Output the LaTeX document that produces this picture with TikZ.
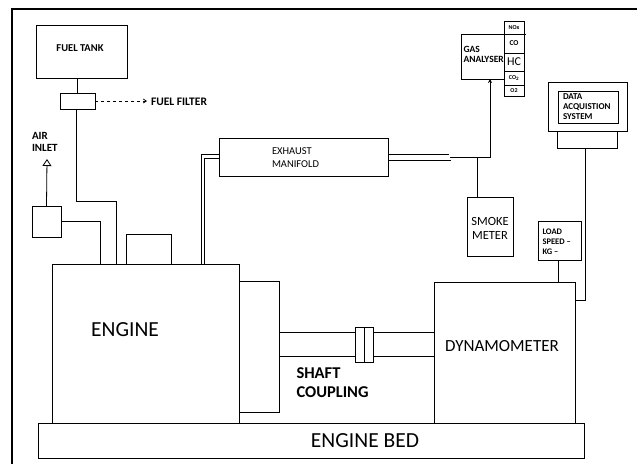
\documentclass[tikz,border=0pt]{standalone}
\usepackage{fontspec}
\setmainfont{Carlito}
\usetikzlibrary{arrows.meta}
\newcommand{\myfs}[2]{\fontsize{#1}{#2}\selectfont}
\begin{document}
\begin{tikzpicture}[x=1pt,y=-1pt,
  box/.style={draw, line width=0.8pt, inner sep=0pt, outer sep=0pt, fill=white},
  ln/.style={line width=0.8pt},
  txt/.style={inner sep=0pt, outer sep=0pt, align=left},
  cell/.style={box, minimum width=20pt}]
\useasboundingbox (0,0) rectangle (637,464);
% frame
\draw[line width=1.8pt] (12,464) -- (12,9) -- (640,9);

% boxes
\node[box, minimum width=91pt, minimum height=53pt] (tank) at (81.5,51.5) {};
\node[txt, font=\myfs{10.5}{12}\bfseries] at (80,48) {FUEL TANK};
\node[box, minimum width=35pt, minimum height=16pt] (filter) at (77.5,101) {};
\node[box, minimum width=29pt, minimum height=31pt] (air) at (46.5,221.5) {};
\node[box, minimum width=45pt, minimum height=30pt] (cap) at (148.5,249) {};
\node[box, minimum width=187pt, minimum height=159pt] (engine) at (145.5,343.5) {};
\node[txt, font=\myfs{21.5}{24}] at (125,330) {ENGINE};
\node[box, minimum width=169pt, minimum height=38pt] (mani) at (303.5,157) {};
\node[txt, anchor=west, font=\myfs{10.5}{13}] at (272,157.5) {EXHAUST\\MANIFOLD};
\node[box, minimum width=43pt, minimum height=45pt] (gas) at (482.5,56.5) {};
\node[txt, anchor=west, font=\myfs{9.5}{10}\bfseries] at (463.5,54) {GAS\\ANALYSER};
\node[box, minimum width=46pt, minimum height=59pt] (smoke) at (490,226.5) {};
\node[txt, align=center, font=\myfs{12.5}{13.5}] at (490,228.5) {SMOKE\\METER};
\node[box, minimum width=43pt, minimum height=39pt] (load) at (559.5,240.5) {};
\node[box, minimum width=79pt, minimum height=49pt] (daq) at (587.5,106.5) {};
\node[box, minimum width=60pt, minimum height=32pt] (daqin) at (588,107) {};
\node[box, minimum width=60pt, minimum height=17pt] (daqbase) at (587,139.5) {};
\node[box, minimum width=141pt, minimum height=141pt] (dyno) at (504.5,352.5) {};
\node[txt, font=\myfs{17}{20}] at (502,346) {DYNAMOMETER};
\node[box, minimum width=40pt, minimum height=131pt] (fly) at (259,346.5) {};
\node[box, minimum width=18pt, minimum height=35pt] (coup) at (364,344.5) {};
\draw[ln] (coup.north) -- (coup.south);
\node[box, minimum width=546pt, minimum height=35pt] (bed) at (311,440.5) {};
\node[txt, font=\myfs{21.5}{24}] at (365,441) {ENGINE BED};

% clipped texts
\begin{scope}
\clip (daqin.north west) rectangle (daqin.south east);
\node[txt, anchor=north west, font=\myfs{9}{10}\bfseries] at (563,94) {DATA\\ACQUISTION\\SYSTEM};
\end{scope}
\begin{scope}
\clip (load.north west) rectangle (load.south east);
\node[txt, anchor=north west, font=\myfs{8.5}{10}\bfseries] at (542.5,229) {LOAD\\SPEED --\\KG --};
\end{scope}

% gas analyser cells
\node[cell, minimum height=13pt, font=\myfs{6}{7}\bfseries] (nox) at (514,27.5) {NOx};
\node[cell, minimum height=19pt, font=\myfs{7.5}{8}\bfseries] (co) at (514,43.5) {CO};
\node[cell, minimum height=18pt, font=\myfs{12}{13}] (hc) at (514,62) {HC};
\node[cell, minimum height=14pt, font=\myfs{6}{7}\bfseries] (co2) at (514,78) {CO\textsubscript{2}};
\node[cell, minimum height=11pt, font=\myfs{6}{7}\bfseries] (o2) at (514,90.5) {O2};
\draw[ln] (nox.south east) -- ++(2,0);

% labels
\node[txt, anchor=west, font=\myfs{11.5}{12}\bfseries] at (151,101.5) {FUEL FILTER};
\node[txt, anchor=west, font=\myfs{11}{12}\bfseries] at (32,142) {AIR\\INLET};
\node[txt, anchor=west, font=\myfs{16.5}{19}\bfseries] at (296.5,382.5) {SHAFT\\COUPLING};

% connectors
\coordinate (ffend) at (147,101);
\draw[ln] (filter.north -| 77,0) -- (tank.south -| 77,0);
\draw[ln, dashed, -{Straight Barb[length=3pt,width=4pt]}] (filter.east) -- (ffend);
\draw[ln] (filter.south -| 76,0) -- (76,201) -- (116,201) -- (engine.north -| 116,0);
\coordinate (airtip) at (47,159);
\draw[ln, -{Triangle[open,length=7pt,width=9pt]}] (air.north) -- (airtip);
\draw[ln] (air.east |- 0,221) -- (100,221) -- (engine.north -| 100,0);
% exhaust pipe
\draw[ln] (engine.north -| 201,0) -- (201,154) -- (mani.west |- 0,154);
\draw[ln] (engine.north -| 204,0) -- (204,158) -- (mani.west |- 0,158);
\coordinate (pipeend) at (450,157);
\draw[ln] (mani.east |- 0,154) -- (449,154);
\draw[ln] (mani.east |- 0,160) -- (451,160);
\draw[ln, -{Stealth[length=4pt,width=4pt]}] (pipeend) -- (490,157) -- (gas.south -| 490,0);
\draw[ln] (477,157) -- (smoke.north -| 477,0);
% shaft
\draw[ln] (fly.east |- 0,332) -- (coup.west |- 0,332);
\draw[ln] (fly.east |- 0,356) -- (coup.west |- 0,356);
\draw[ln] (coup.east |- 0,332) -- (dyno.west |- 0,332);
\draw[ln] (coup.east |- 0,356) -- (dyno.west |- 0,356);
% instruments
\draw[ln] (load.south -| 558,0) -- (dyno.north -| 558,0);
\draw[ln] (daqbase.south -| 585,0) -- (585,300) -- (dyno.east |- 0,300);
\end{tikzpicture}
\end{document}
